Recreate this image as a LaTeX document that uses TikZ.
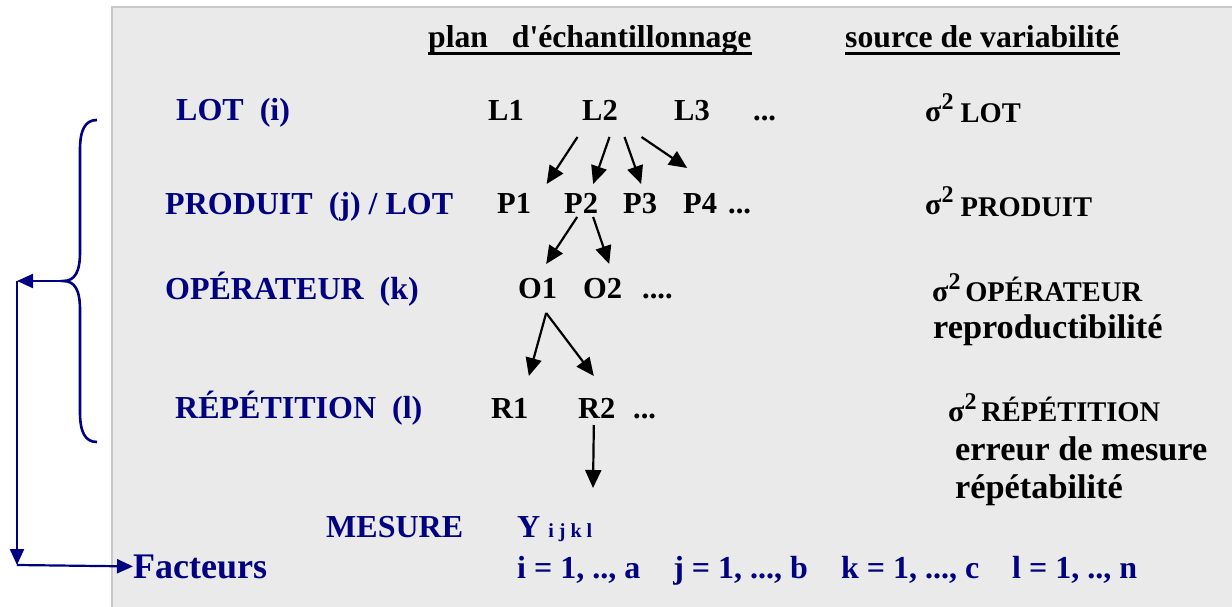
\documentclass[tikz,border=0pt]{standalone}
\usepackage{fontspec}
\setmainfont{Liberation Serif}
\usetikzlibrary{arrows.meta,calc}
\definecolor{navy}{RGB}{0,0,128}
\definecolor{boxfill}{RGB}{234,234,234}
\definecolor{boxline}{RGB}{200,200,200}
\newcommand{\sigtwo}{{\fontsize{30}{36}\selectfont σ}\raisebox{12pt}{\fontsize{24}{28}\selectfont 2}}
\begin{document}
\begin{tikzpicture}[x=1pt,y=-1pt,
  every node/.style={inner sep=0pt,anchor=base west},
  lbl/.style={text=navy,font=\fontsize{32}{38}\selectfont\bfseries},
  ctr/.style={text=black,font=\fontsize{30.5}{36}\selectfont\bfseries},
  hdr/.style={text=black,font=\fontsize{31.7}{36}\selectfont\bfseries},
  src/.style={text=black,font=\fontsize{28.5}{34}\selectfont\bfseries},
  srcbig/.style={text=black,font=\fontsize{34.3}{40}\selectfont\bfseries},
  idx/.style={text=navy,font=\fontsize{32}{38}\selectfont\bfseries},
  arr/.style={draw=black,line width=2.2pt,-{Triangle[length=18pt,width=16pt]}},
  narr/.style={draw=navy,line width=2.2pt,-{Triangle[length=16pt,width=14pt]}}]
\useasboundingbox (0,0) rectangle (1232,607);
\filldraw[fill=boxfill,draw=boxline,line width=2pt] (112,7) rectangle (1240,620);

% headers
\node[hdr] (h1) at (428,48) {plan\ \ \ d\textquotesingle échantillonnage};
\node[hdr] (h2) at (845,48) {source de variabilité};
\draw[line width=3pt] ($(h1.base west)+(0,6)$) -- ($(h1.base east)+(0,6)$);
\draw[line width=3pt] ($(h2.base west)+(0,6)$) -- ($(h2.base east)+(0,6)$);

% left labels
\node[lbl] (lot) at (176,121) {LOT\ \ (i)};
\node[lbl] (prod) at (165,214) {PRODUIT\ \ (j) / LOT};
\node[lbl] (oper) at (165,299) {OPÉRATEUR\ \ (k)};
\node[lbl] (rep) at (175,418) {RÉPÉTITION\ \ (l)};
\node[lbl] (mes) at (326,537) {MESURE};
\node[text=navy,font=\fontsize{36}{42}\selectfont\bfseries] (fact) at (133,578) {Facteurs};

% sampling plan
\node[ctr] (L1) at (488,121) {L1};
\node[ctr] (L2) at (582,121) {L2};
\node[ctr] (L3) at (674,121) {L3};
\node[ctr] (Ld) at (753,121) {...};
\node[ctr] (P1) at (497,213) {P1};
\node[ctr] (P2) at (564,213) {P2};
\node[ctr] (P3) at (623,213) {P3};
\node[ctr] (P4) at (683,213) {P4};
\node[ctr] (Pd) at (728,213) {...};
\node[ctr] (O1) at (518,298) {O1};
\node[ctr] (O2) at (583,298) {O2};
\node[ctr] (Od) at (642,298) {....};
\node[ctr] (R1) at (491,418) {R1};
\node[ctr] (R2) at (578,418) {R2};
\node[ctr] (Rd) at (633,418) {...};
\node[idx] (Y) at (517,537) {Y\ {\fontsize{20}{24}\selectfont i j k l}};
\node[idx] (ind) at (517,578) {i = 1, .., a\hspace{33pt}j = 1, ..., b\hspace{33pt}k = 1, ..., c\hspace{33pt}l = 1, .., n};

% arrows
\draw[arr] ($(L2.base)+(-22.5,16)$) -- ($(P1.base)+(32.5,-29)$);
\draw[arr] ($(L2.base)+(9.5,16)$) -- ($(P2.base)+(12,-29)$);
\draw[arr] ($(L2.base)+(24.5,16)$) -- ($(P3.base)+(1,-29)$);
\draw[arr] ($(L2.base)+(41.5,16)$) -- ($(P4.base)+(-13,-45)$);
\draw[arr] ($(P2.base)+(-4,4)$) -- ($(O1.base)+(8.5,-34)$);
\draw[arr] ($(P2.base)+(12,4)$) -- ($(O2.base)+(6.5,-34)$);
\draw[arr] ($(O1.base)+(8.5,15)$) -- ($(R1.base)+(19,-42)$);
\draw[arr] ($(O1.base)+(8.5,15)$) -- ($(R2.base)+(-3,-42)$);
\draw[arr] ($(R2.base)+(-3,7)$) -- ($(Y.base west)+(76,-49)$);

% sources of variability
\node[src] (sLot) at (925,122) {\sigtwo\ \raisebox{-1pt}{LOT}};
\node[src] (sProd) at (925,214) {\sigtwo\ \raisebox{-2pt}{PRODUIT}};
\node[src] (sOper) at (932,301) {\sigtwo\,OPÉRATEUR};
\node[srcbig] (repro) at (933,338) {reproductibilité};
\node[src] (sRep) at (948,421) {\sigtwo\,RÉPÉTITION};
\node[srcbig] (err) at (955,460) {erreur de mesure};
\node[srcbig] (repet) at (955,498) {répétabilité};

% brace and factor arrows
\draw[navy,line width=2.6pt] (97,120) .. controls (85,120) and (80,130) .. (80,150) -- (80,252)
  .. controls (80,272) and (75,281) .. (63,281)
  .. controls (75,281) and (80,290) .. (80,310) -- (80,412)
  .. controls (80,432) and (85,442) .. (97,442);
\coordinate (btip) at (63,281);
\coordinate (c1) at (17,281);
\coordinate (c2) at (17,565);
\draw[narr] (btip) -- (c1);
\draw[narr] (c1) -- (c2);
\draw[narr] (c2) -- (fact.west);
\end{tikzpicture}
\end{document}
